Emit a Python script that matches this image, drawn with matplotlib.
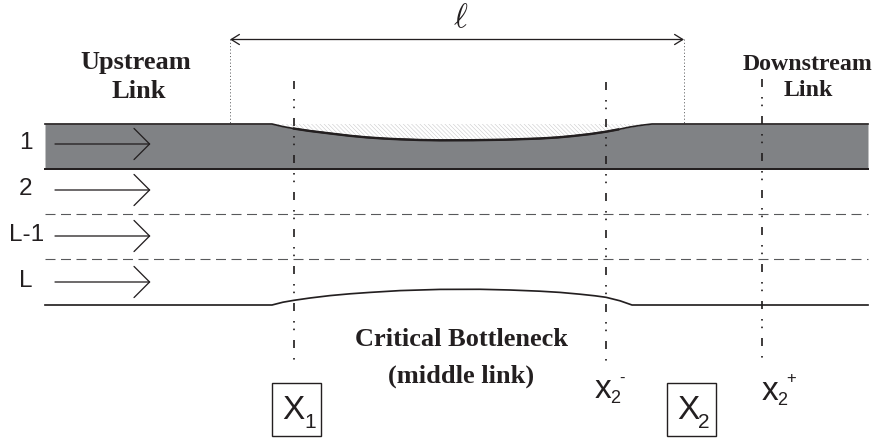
import numpy as np
import matplotlib
matplotlib.use('Agg')
import matplotlib.pyplot as plt
from matplotlib.patches import Rectangle

# everything in pixels, y pointing down
curve_x = [272, 283, 294, 310, 333, 350, 367, 385, 400, 420, 440, 473, 505, 540, 558, 573, 590, 606, 618, 630, 641, 652]
curve_y = [124, 126.6, 128.6, 131, 133.8, 135.8, 137.4, 138.6, 139.3, 140, 140.3, 140.2, 139.7, 138.5, 137.4, 136, 134.1, 131.7, 129.5, 127, 125.3, 124]
bottom_x = [45, 272, 283, 294, 310, 330, 350, 370, 400, 440, 480, 510, 540, 560, 580, 595, 606, 620, 632, 868]
bottom_y = [305, 305, 302.2, 300.3, 298, 295.6, 293.8, 292.4, 290.6, 289.4, 289.3, 290, 291.2, 292.4, 294.2, 295.8, 297.3, 300.8, 305, 305]
band_bottom = 169
band_color = '#808285'
ink = '#231f20'

lane_labels = ['1', '2', 'L-1', 'L']
lane_y = [144, 190, 236, 282]
lane_label_x = [26, 26, 27, 26]
dashed_y = [214.5, 259.5]
section_x = [294, 606.5, 762]
section_top = [81, 82, 79]
section_bottom = [363, 363, 361]
span_x = [230, 684]
span_y = 39.5

PX = 72 / 100  # one pixel in points at dpi 100

plt.rcParams['font.family'] = 'Liberation Sans'
plt.rcParams['lines.scale_dashes'] = False
plt.rcParams['hatch.linewidth'] = 0.35
plt.rcParams['hatch.color'] = '#c4c4c6'
plt.rcParams['mathtext.fontset'] = 'cm'

fig = plt.figure(figsize=(8.78, 4.40), dpi=100)
ax = fig.add_axes([0, 0, 1, 1])
ax.set_xlim(0, 878)
ax.set_ylim(440, 0)
ax.axis('off')

band_x = [45] + curve_x + [868]
band_top = [124] + curve_y + [124]

# grey lane 1 and the hatched bit above the bulge
ax.fill_between(band_x, band_top, band_bottom, color=band_color, lw=0, zorder=1)
ax.fill_between(curve_x, 124, curve_y, facecolor='white', edgecolor='#c4c4c6',
                hatch='\\\\\\\\\\\\\\\\', lw=0, zorder=1)
ax.plot(band_x, band_top, color=ink, lw=1.7 * PX, zorder=3, solid_joinstyle='round')
ax.plot(curve_x[2:-3], curve_y[2:-3], color=ink, lw=2.4 * PX, zorder=3, solid_joinstyle='round')
ax.plot([45, 868], [band_bottom, band_bottom], color=ink, lw=2.0 * PX, zorder=3)
ax.plot(bottom_x, bottom_y, color=ink, lw=1.7 * PX, zorder=3, solid_joinstyle='round')

for y in dashed_y:
    ax.plot([45, 868], [y, y], color='#58595b', lw=1.1 * PX,
            dashes=(10 * PX, 5.5 * PX), zorder=2)

# dash dot dot section lines
pattern = tuple(v * PX for v in (8, 10, 1.6, 6, 1.6, 9.8))
for x, y0, y1 in zip(section_x, section_top, section_bottom):
    ax.plot([x, x], [y0, y1], color=ink, lw=1.7 * PX, dashes=pattern,
            dash_capstyle='butt', zorder=4)

# dotted ends of the length arrow
for x in span_x:
    ax.plot([x, x], [span_y, 124], color='#58595b', lw=0.9 * PX,
            dashes=(1.1 * PX, 2.2 * PX), zorder=2)

ax.annotate('', xy=(span_x[1], span_y), xytext=(span_x[0], span_y),
            arrowprops=dict(arrowstyle='<->,head_length=0.42,head_width=0.26',
                            color=ink, lw=1.3 * PX, shrinkA=0, shrinkB=0,
                            mutation_scale=14))

for label, lx, y in zip(lane_labels, lane_label_x, lane_y):
    ax.annotate('', xy=(150.5, y), xytext=(55, y),
                arrowprops=dict(arrowstyle='->,head_length=0.56,head_width=0.56',
                                color=ink, lw=1.3 * PX, shrinkA=0, shrinkB=0,
                                mutation_scale=20), zorder=5)
    ax.text(lx, y - 1, label, fontsize=17.5, color=ink, ha='center', va='center')

serif = dict(family='Liberation Serif', weight='bold', color=ink, ha='center', va='center')
ax.text(136, 62, 'Upstream', fontsize=19, **serif)
ax.text(139, 92, 'Link', fontsize=19, **serif)
ax.text(808, 65, 'Downstream', fontsize=17.2, **serif)
ax.text(808, 91, 'Link', fontsize=17.2, **serif)
ax.text(462, 339, 'Critical Bottleneck', fontsize=19, **serif)
ax.text(461, 376, '(middle link)', fontsize=19, **serif)
ax.text(460.5, 27, r'$\ell$', fontsize=24, color=ink, ha='center', va='baseline')

# boxed X1 and X2
for x0, sub, sub_dx in zip([272, 667], ['1', '2'], [32, 31]):
    ax.add_patch(Rectangle((x0, 383.5), 49, 53, fill=False, ec=ink, lw=1.4 * PX))
    ax.text(x0 + 10, 419, 'X', fontsize=24, color=ink, ha='left', va='baseline')
    ax.text(x0 + sub_dx, 428, sub, fontsize=15, color=ink, ha='left', va='baseline')

for x0, sign, sign_dx, base in zip([594.5, 761.5], ['-', '+'], [28, 30], [398, 400]):
    ax.text(x0, base, 'x', fontsize=24, color=ink, ha='left', va='baseline')
    ax.text(x0 + 16, base + 5, '2', fontsize=13, color=ink, ha='left', va='baseline')
    ax.text(x0 + sign_dx, 378, sign, fontsize=12, color=ink, ha='center', va='center')

fig.savefig('out.png', dpi=100)
